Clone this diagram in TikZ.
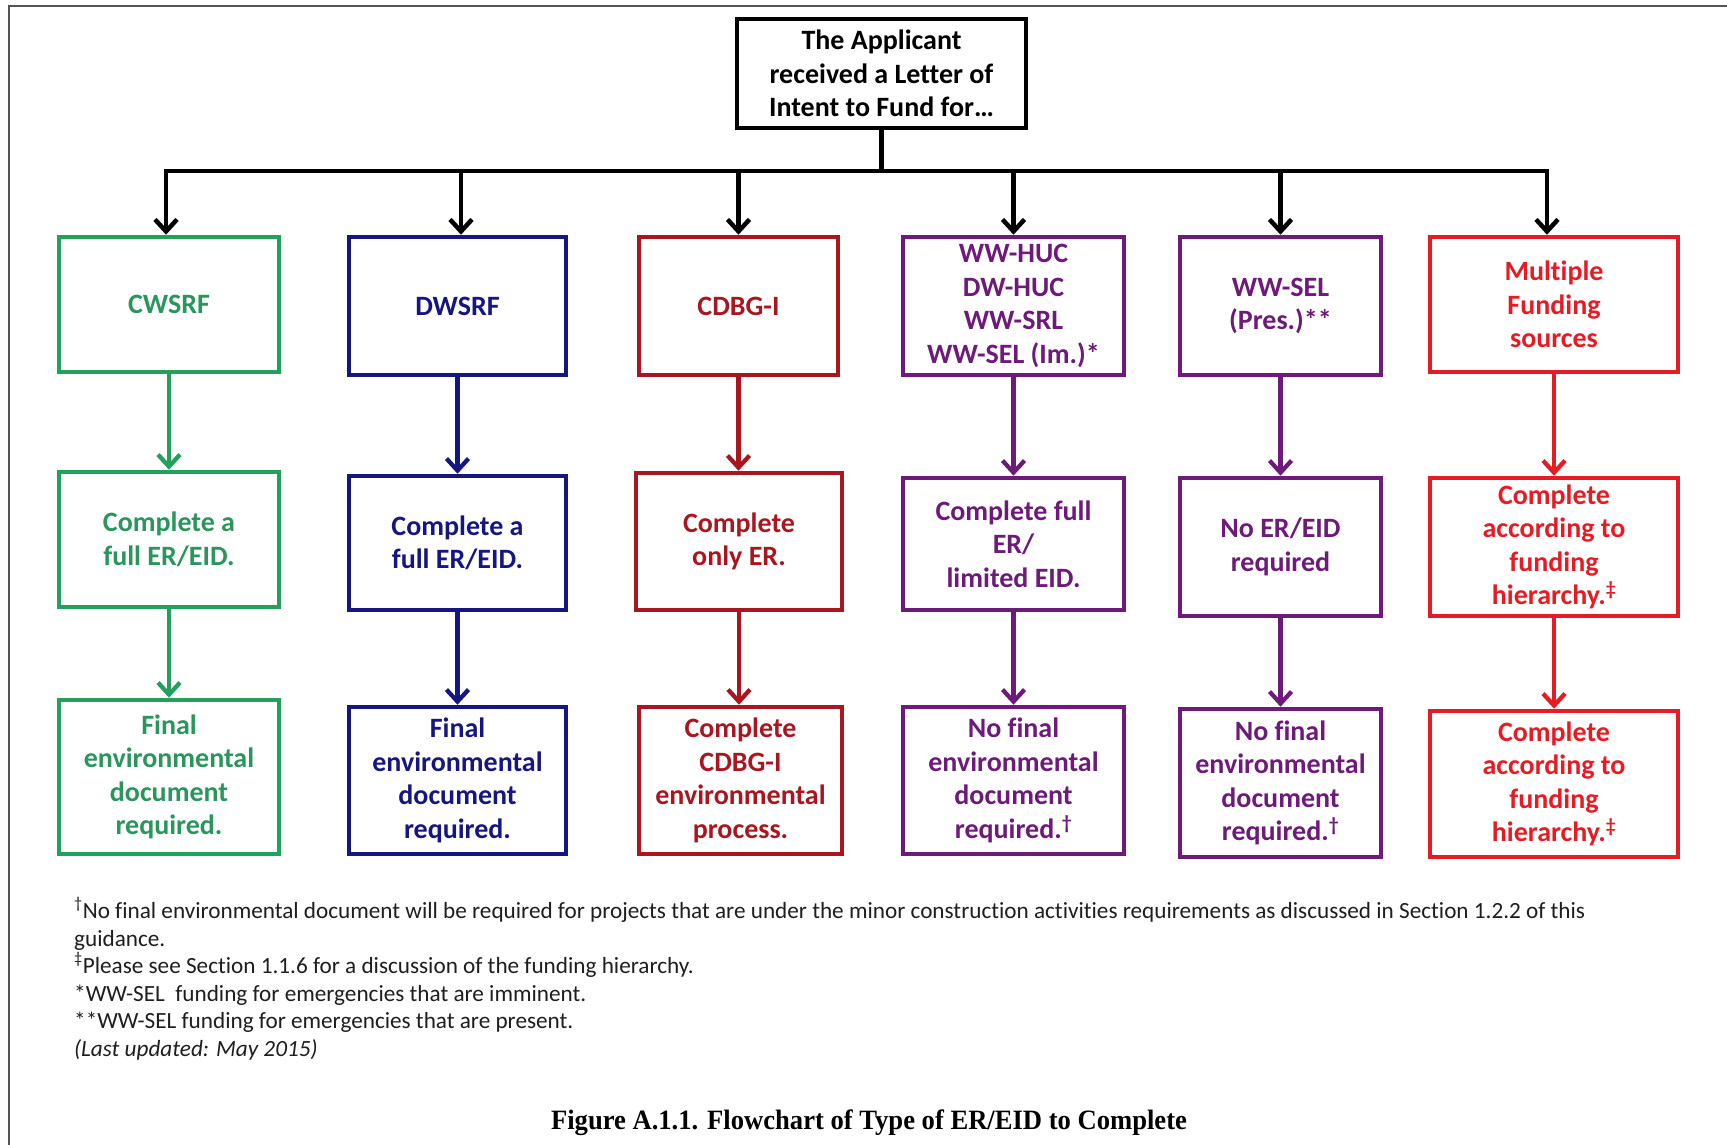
\documentclass[tikz,border=0pt]{standalone}
\usepackage{fontspec}
\setmainfont{Carlito}[Ligatures=NoCommon]
\newfontfamily\capfont{Liberation Serif}
\usetikzlibrary{arrows.meta}

% box and text colours of the funding columns
\definecolor{cwgreen}{RGB}{34,160,92}
\definecolor{cwgreentext}{RGB}{42,150,92}
\definecolor{dwnavy}{RGB}{22,22,128}
\definecolor{cdbgred}{RGB}{170,22,32}
\definecolor{hucpurple}{RGB}{110,26,122}
\definecolor{multired}{RGB}{230,28,36}
\definecolor{framegray}{RGB}{85,85,85}
\definecolor{notegray}{RGB}{30,30,30}

\tikzset{
  fbox/.style={draw, rectangle, line width=4.5pt, inner sep=0pt, align=center,
    minimum width=220pt, font=\fontsize{28}{33.5}\selectfont\bfseries},
  greenbox/.style={fbox, draw=cwgreen, text=cwgreentext},
  navybox/.style={fbox, draw=dwnavy, text=dwnavy},
  cdbgbox/.style={fbox, draw=cdbgred, text=cdbgred},
  purplebox/.style={fbox, draw=hucpurple, text=hucpurple},
  redbox/.style={fbox, draw=multired, text=multired},
  busline/.style={line width=4.5pt, draw=black},
  drop/.style={busline, -{Straight Barb[length=12pt,width=22pt]}},
  flow/.style={line width=4.3pt, -{Straight Barb[length=12pt,width=22pt]}},
  note/.style={anchor=base west, inner sep=0pt, text=notegray,
    font=\fontsize{23.2}{27.6}\selectfont},
}

\begin{document}
\begin{tikzpicture}[x=1pt,y=-1pt]
\useasboundingbox (0,0) rectangle (1727,1145);
\fill[white] (0,0) rectangle (1727,1145);

% page frame edges
\draw[framegray, line width=2pt] (9,1145) -- (9,6) -- (1727,6);

% top question box
\node[fbox, draw=black, text=black, line width=4.2pt, minimum width=289pt,
  minimum height=109pt] (top) at (881.5,73.5)
  {The Applicant\\received a Letter of\\Intent to Fund for\ldots};

% first row: funding sources
\node[greenbox, minimum height=135pt] (a1) at (169,304.5) {CWSRF};
\node[navybox, minimum width=217pt, minimum height=138pt] (a2) at (457.5,306) {DWSRF};
\node[cdbgbox, minimum width=199pt, minimum height=138pt] (a3) at (738.5,306) {CDBG-I};
\node[purplebox, minimum width=221pt, minimum height=138pt] (a4) at (1013.5,306)
  {WW-HUC\\DW-HUC\\WW-SRL\\WW-SEL (Im.)*};
\node[purplebox, minimum width=201pt, minimum height=138pt] (a5) at (1280.5,306)
  {WW-SEL\\(Pres.)**};
\node[redbox, minimum width=248pt, minimum height=135pt] (a6) at (1554,304.5)
  {Multiple\\Funding\\sources};

% second row: environmental review to complete
\node[greenbox, minimum height=135pt] (b1) at (169,539.5) {Complete a\\full ER/EID.};
\node[navybox, minimum width=217pt, minimum height=134pt] (b2) at (457.5,543) {Complete a\\full ER/EID.};
\node[cdbgbox, minimum width=206pt, minimum height=137pt] (b3) at (739,541.5) {Complete\\only ER.};
\node[purplebox, minimum width=221pt, minimum height=132pt] (b4) at (1013.5,544)
  {Complete full\\ER/\\limited EID.};
\node[purplebox, minimum width=201pt, minimum height=138pt] (b5) at (1280.5,547)
  {No ER/EID\\required};
\node[redbox, minimum width=248pt, minimum height=138pt] (b6) at (1554,547)
  {Complete\\according to\\funding\\hierarchy.\textsuperscript{‡}};

% third row: final environmental document
\node[greenbox, minimum height=154pt] (c1) at (169,777)
  {Final\\environmental\\document\\required.};
\node[navybox, minimum width=217pt, minimum height=147pt] (c2) at (457.5,780.5)
  {Final\\environmental\\document\\required.};
\node[cdbgbox, minimum width=203pt, minimum height=147pt] (c3) at (740.5,780.5)
  {Complete\\CDBG-I\\environmental\\process.};
\node[purplebox, minimum width=221pt, minimum height=147pt] (c4) at (1013.5,780.5)
  {No final\\environmental\\document\\required.\textsuperscript{†}};
\node[purplebox, minimum width=201pt, minimum height=148pt] (c5) at (1280.5,783)
  {No final\\environmental\\document\\required.\textsuperscript{†}};
\node[redbox, minimum width=248pt, minimum height=146pt] (c6) at (1554,784)
  {Complete\\according to\\funding\\hierarchy.\textsuperscript{‡}};

% distribution bus from the top box
\coordinate (bus) at (881.5,171);
\draw[busline] (top.south) -- (bus);
\draw[drop] (bus) -| ([xshift=-3pt]a1.north);
\draw[drop] (bus) -| ([xshift=3.5pt]a2.north);
\draw[drop] (bus) -| (a3.north);
\draw[drop] (bus) -| (a4.north);
\draw[drop] (bus) -| (a5.north);
\draw[drop] (bus) -| ([xshift=-7pt]a6.north);

% column flows
\draw[flow, cwgreen] (a1) -- (b1);
\draw[flow, cwgreen] (b1) -- (c1);
\draw[flow, dwnavy] (a2) -- (b2);
\draw[flow, dwnavy] (b2) -- (c2);
\draw[flow, cdbgred] (a3) -- (a3 |- b3.north);
\draw[flow, cdbgred] (b3) -- (b3 |- c3.north);
\draw[flow, hucpurple] (a4) -- (b4);
\draw[flow, hucpurple] (b4) -- (c4);
\draw[flow, hucpurple] (a5) -- (b5);
\draw[flow, hucpurple] (b5) -- (c5);
\draw[flow, multired] (a6) -- (b6);
\draw[flow, multired] (b6) -- (c6);

% footnotes
\node[note] (n1) at (74,918) {\textsuperscript{†}No final environmental document will be required for projects that are under the minor construction activities requirements as discussed in Section 1.2.2 of this};
\node[note] (n2) at (74,946) {guidance.};
\node[note] (n3) at (74,973) {\textsuperscript{‡}Please see Section 1.1.6 for a discussion of the funding hierarchy.};
\node[note] (n4) at (74,1001) {*WW-SEL\ \ funding for emergencies that are imminent.};
\node[note] (n5) at (74,1028) {**WW-SEL funding for emergencies that are present.};
\node[note] (n6) at (74,1056) {\itshape (Last updated: May 2015)};

% figure caption
\node[anchor=base, inner sep=0pt, font=\capfont\bfseries\fontsize{28}{32}\selectfont] (cap) at (869,1129)
  {\scalebox{0.95}[1]{Figure A.1.1. Flowchart of Type of ER/EID to Complete}};
\end{tikzpicture}
\end{document}
